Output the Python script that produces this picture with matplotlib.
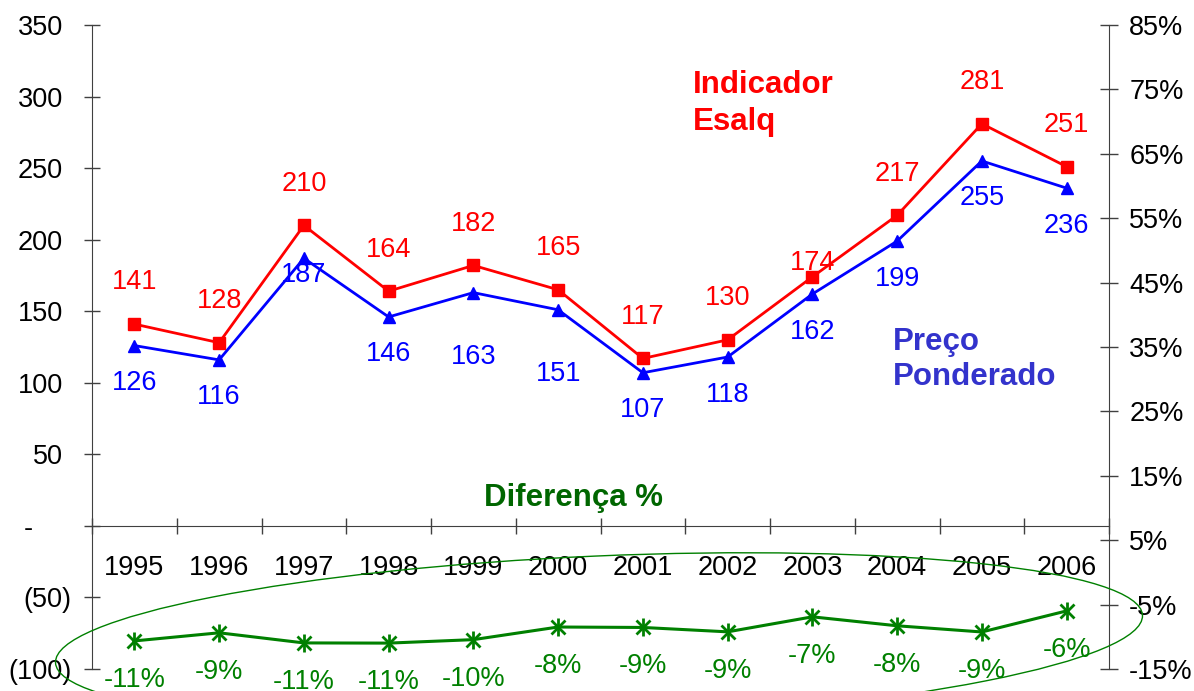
# %%
# libraries
import numpy as np
import matplotlib.pyplot as plt
from matplotlib.patches import Ellipse
from matplotlib.transforms import ScaledTranslation

plt.rcParams['font.family'] = ['Liberation Sans', 'DejaVu Sans']

# %%
# data
years = ['1995', '1996', '1997', '1998', '1999', '2000', '2001', '2002', '2003', '2004', '2005', '2006']
esalq = [141, 128, 210, 164, 182, 165, 117, 130, 174, 217, 281, 251]
ponderado = [126, 116, 187, 146, 163, 151, 107, 118, 162, 199, 255, 236]
diferenca = [-10.64, -9.38, -10.95, -10.98, -10.44, -8.48, -8.55, -9.23, -6.90, -8.29, -9.25, -5.98]
diferenca_labels = ['-11%', '-9%', '-11%', '-11%', '-10%', '-8%', '-9%', '-9%', '-7%', '-8%', '-9%', '-6%']

left_ticks = [-100, -50, 0, 50, 100, 150, 200, 250, 300, 350]
left_labels = ['(100)', '(50)', '-', '50', '100', '150', '200', '250', '300', '350']
right_ticks = [-15, -5, 5, 15, 25, 35, 45, 55, 65, 75, 85]
right_labels = ['-15%', '-5%', '5%', '15%', '25%', '35%', '45%', '55%', '65%', '75%', '85%']

# label offsets in points (hand placed in the original)
esalq_off = [30, 30, 30, 30, 30, 30, 30, 30, 10, 30, 30, 30]
pond_off = [-27, -27, -12, -27, -46, -46, -27, -27, -27, -27, -27, -27]

# %%
# colours
red = '#FF0000'
blue = '#0000FF'
green = '#008000'
axis_col = '#404040'
fs = 19.5

# %%
# figure
fig = plt.figure(figsize=(11.94, 6.91), dpi=100)
ax = fig.add_axes([92 / 1194, 22 / 691, 1017 / 1194, 644 / 691])
ax2 = ax.twinx()

x = np.arange(len(years))
ax.set_xlim(-0.5, len(years) - 0.5)
ax.set_ylim(-100, 350)
ax2.set_ylim(-15, 85)

ax.plot(x, esalq, color=red, lw=2, marker='s', ms=8, zorder=3)
ax.plot(x, ponderado, color=blue, lw=2, marker='^', ms=9, zorder=3)
ax2.plot(x, diferenca, color=green, lw=2.2, marker='x', ms=10, mew=2, zorder=3)
ax2.plot(x, diferenca, color=green, ls='none', marker='|', ms=13, mew=2, zorder=3)

for i in range(len(years)):
    ax.annotate(str(esalq[i]), (x[i], esalq[i]), xytext=(0, esalq_off[i]),
                textcoords='offset points', ha='center', va='center', color=red, fontsize=fs)
    ax.annotate(str(ponderado[i]), (x[i], ponderado[i]), xytext=(0, pond_off[i]),
                textcoords='offset points', ha='center', va='center', color=blue, fontsize=fs)
    ax2.annotate(diferenca_labels[i], (x[i], diferenca[i]), xytext=(0, -28),
                 textcoords='offset points', ha='center', va='center', color=green, fontsize=fs)

# %%
# axes styling
for s in ['top', 'right']:
    ax.spines[s].set_visible(False)
for s in ['top', 'left', 'bottom']:
    ax2.spines[s].set_visible(False)
ax.spines['bottom'].set_position(('data', 0))
ax.spines['left'].set_color(axis_col)
ax.spines['bottom'].set_color(axis_col)
ax2.spines['right'].set_color(axis_col)

ax.set_yticks(left_ticks)
ax.set_yticklabels(left_labels)
ax.tick_params(axis='y', direction='inout', length=11.5, width=1, color=axis_col, pad=15, labelsize=fs)
ax2.set_yticks(right_ticks)
ax2.set_yticklabels(right_labels)
ax2.tick_params(axis='y', direction='inout', length=13, width=1, color=axis_col, pad=8, labelsize=fs)

# accounting style alignment: brackets stick out, dash sits left
for lab in ax.get_yticklabels():
    t = lab.get_text()
    if t.startswith('('):
        lab.set_transform(lab.get_transform() + ScaledTranslation(0.08, 0, fig.dpi_scale_trans))
    elif t == '-':
        lab.set_transform(lab.get_transform() + ScaledTranslation(-0.30, 0, fig.dpi_scale_trans))

ax.set_xticks(x)
ax.set_xticklabels(years)
ax.set_xticks(np.arange(-0.5, len(years)), minor=True)
ax.tick_params(axis='x', which='major', length=0, pad=21, labelsize=fs)
ax.tick_params(axis='x', which='minor', direction='inout', length=11.5, width=1, color=axis_col)

# %%
# series names and ellipse
ax.text(0.591, 0.878, 'Indicador\nEsalq', transform=ax.transAxes, color=red,
        fontsize=22.5, fontweight='bold', ha='left', va='center', linespacing=1.3)
ax.text(0.7876, 0.4806, 'Preço\nPonderado', transform=ax.transAxes, color='#3333CC',
        fontsize=22.5, fontweight='bold', ha='left', va='center', linespacing=1.25)
ax.text(0.473, 0.2655, 'Diferença %', transform=ax.transAxes, color='#006600',
        fontsize=22.5, fontweight='bold', ha='center', va='center')

fig.add_artist(Ellipse((5.99, 0.52), 10.88, 1.66, angle=2.5, transform=fig.dpi_scale_trans,
                       fill=False, edgecolor=green, lw=1))

fig.savefig('out.png', dpi=100)
